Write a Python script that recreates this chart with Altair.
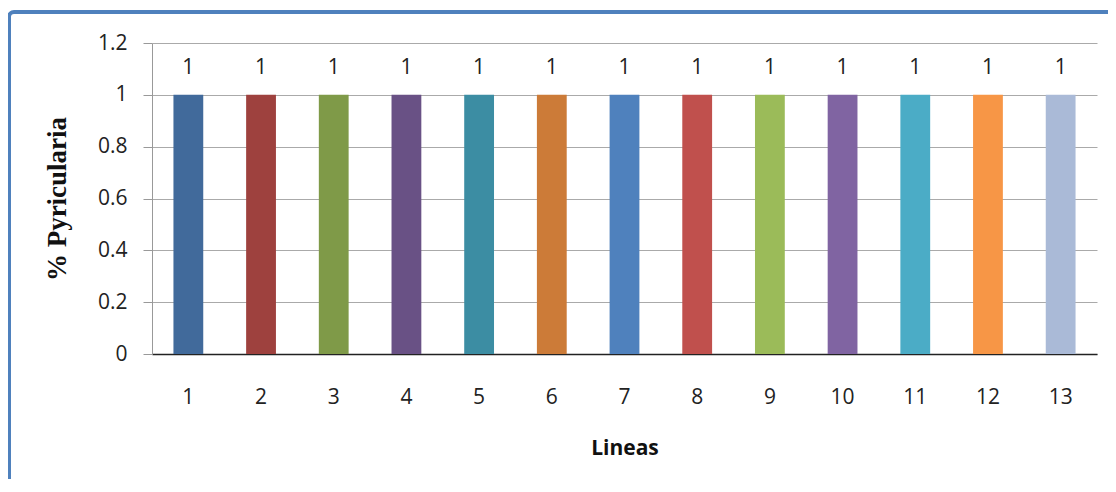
import altair as alt
import pandas as pd

lineas = [str(i) for i in range(1, 14)]
valores = [1] * 13
colores = ["#416A9B", "#9E413E", "#7F9A48", "#695185", "#3C8DA3", "#CC7B38",
           "#4F81BD", "#C0504D", "#9BBB59", "#8064A2", "#4BACC6", "#F79646", "#AABAD7"]

df = pd.DataFrame({"Lineas": lineas, "valor": valores, "color": colores})

x = alt.X("Lineas:N", sort=lineas, title="Lineas",
          scale=alt.Scale(paddingInner=0.59, paddingOuter=0.295),
          axis=alt.Axis(labelAngle=0, ticks=False, labelPadding=32, titlePadding=30,
                        labelFont="Open Sans", labelFontSize=21, labelColor="#222",
                        titleFont="Open Sans", titleFontSize=21, titleFontWeight="bold",
                        titleColor="#111", domainColor="#222", domainWidth=1.5, grid=False))
y = alt.Y("valor:Q", title="% Pyricularia",
          scale=alt.Scale(domain=[0, 1.2], nice=False),
          axis=alt.Axis(values=[0, 0.2, 0.4, 0.6, 0.8, 1, 1.2], format="~g",
                        tickSize=9, tickColor="#999", domainColor="#999",
                        labelPadding=16, labelFont="Open Sans", labelFontSize=21,
                        labelColor="#222", gridColor="#aaa", gridWidth=1,
                        titleFont="Liberation Serif", titleFontSize=27,
                        titleFontWeight="bold", titleColor="#111", titlePadding=26))

bars = alt.Chart(df).mark_bar().encode(
    x=x, y=y, color=alt.Color("color:N", scale=None, legend=None)
)
labels = alt.Chart(df).mark_text(dy=-27, font="Open Sans", fontSize=21, color="#222").encode(
    x=alt.X("Lineas:N", sort=lineas), y="valor:Q", text="valor:Q"
)
frame = alt.Chart(pd.DataFrame({"a": [0]})).mark_rect(
    fill=None, stroke="#4F81BD", strokeWidth=4, cornerRadius=5
).encode(x=alt.value(-143), x2=alt.value(990), y=alt.value(-31), y2=alt.value(470))

chart = alt.layer(frame, bars, labels).properties(
    width=945, height=311,
    autosize=alt.AutoSizeParams(type="none"),
    padding={"left": 144, "top": 35, "right": 11, "bottom": 125},
    background="white"
).configure_view(stroke=None)

chart.save("out.html", embed_options={"renderer": "svg", "actions": False})
